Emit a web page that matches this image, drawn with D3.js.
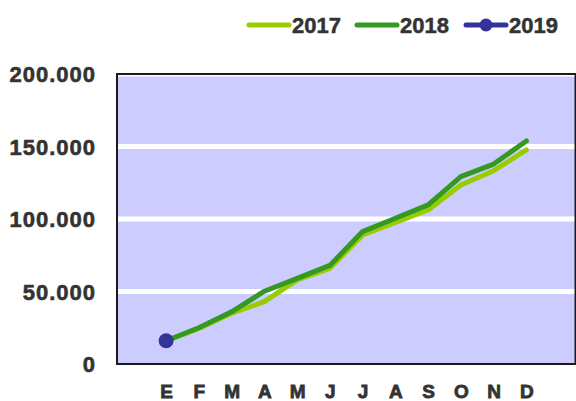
<!DOCTYPE html>
<html><head><meta charset="utf-8">
<script src="https://cdn.jsdelivr.net/npm/d3@7/dist/d3.min.js"></script>
<style>
html,body{margin:0;padding:0;background:#fff;}
svg{display:block;font-family:"Liberation Sans",Arial,sans-serif;}
</style></head>
<body>
<svg id="c" width="576" height="401"></svg>
<script>
const months = ["E","F","M","A","M","J","J","A","S","O","N","D"];
const series2017 = [16000,24500,35000,43000,58000,66000,89000,97700,106200,123400,133300,147600];
const series2018 = [16000,25000,36000,50200,59000,68000,91300,100500,109700,129200,137900,153800];
const series2019 = [16000];
const yTicks = [0,50000,100000,150000,200000];
const yTickLabels = ["0","50.000","100.000","150.000","200.000"];
const seriesNames = ["2017","2018","2019"];
const colors = ["#99cc00","#339922","#333399"];

const svg = d3.select("#c");
const L=117, R=575.5, T=74, B=364;
const x = d3.scalePoint().domain(d3.range(12)).range([L,R]).padding(1.5);
const y = d3.scaleLinear().domain([0,200000]).range([B,T]);

svg.append("rect").attr("x",L).attr("y",T).attr("width",R-L).attr("height",B-T).attr("fill","#ccccff");

svg.append("g").selectAll("line").data(yTicks.filter(d=>d>0)).join("line")
  .attr("x1",L).attr("x2",R).attr("y1",d=>y(d)).attr("y2",d=>y(d))
  .attr("stroke","#fff").attr("stroke-width",5);

const line = d3.line().x((d,i)=>x(i)).y(d=>y(d));
[series2017,series2018].forEach((s,k)=>{
  svg.append("path").datum(s).attr("d",line).attr("fill","none")
    .attr("stroke",colors[k]).attr("stroke-width",5)
    .attr("stroke-linecap","round").attr("stroke-linejoin","round");
});
svg.append("path").datum(series2019).attr("d",line).attr("fill","none")
  .attr("stroke",colors[2]).attr("stroke-width",5);
svg.selectAll("circle.p").data(series2019).join("circle").attr("class","p")
  .attr("cx",(d,i)=>x(i)).attr("cy",d=>y(d)).attr("r",7.5).attr("fill",colors[2]);

svg.append("rect").attr("x",L).attr("y",T).attr("width",R-L).attr("height",B-T)
  .attr("fill","none").attr("stroke","#1a1a1a").attr("stroke-width",2);

// y axis labels
const yAxis = d3.axisLeft(y).tickValues(yTicks).tickFormat((d,i)=>yTickLabels[i]).tickSize(0).tickPadding(0);
const gy = svg.append("g").attr("transform",`translate(96,0)`).call(yAxis);
gy.select(".domain").remove();
gy.selectAll("text").attr("font-size",22).attr("font-weight","bold").attr("fill","#333")
  .attr("stroke","#333").attr("stroke-width",0.6)
  .attr("font-family","'Liberation Sans',Arial,sans-serif").attr("letter-spacing","1px")
  .attr("dy","0.36em");

// x axis labels
const xAxis = d3.axisBottom(x).tickFormat(i=>months[i]).tickSize(0).tickPadding(0);
const gx = svg.append("g").attr("transform",`translate(0,398)`).call(xAxis);
gx.select(".domain").remove();
gx.selectAll("text").attr("dy",0).attr("font-size",19).attr("font-weight","bold").attr("fill","#333")
  .attr("stroke","#333").attr("stroke-width",0.8)
  .attr("font-family","'Liberation Sans',Arial,sans-serif");

// legend
const legX = [249,357,466];
const lg = svg.append("g");
seriesNames.forEach((n,k)=>{
  const g = lg.append("g").attr("transform",`translate(${legX[k]},25)`);
  g.append("line").attr("x1",0).attr("x2",40).attr("y1",0).attr("y2",0)
    .attr("stroke",colors[k]).attr("stroke-width",5).attr("stroke-linecap","round");
  if(k===2) g.append("circle").attr("cx",20).attr("cy",0).attr("r",6.5).attr("fill",colors[k]);
  g.append("text").attr("x",43).attr("y",7.8).text(n).attr("font-size",22).attr("font-weight","bold")
    .attr("fill","#333").attr("stroke","#333").attr("stroke-width",0.5);
});
</script>
</body></html>
